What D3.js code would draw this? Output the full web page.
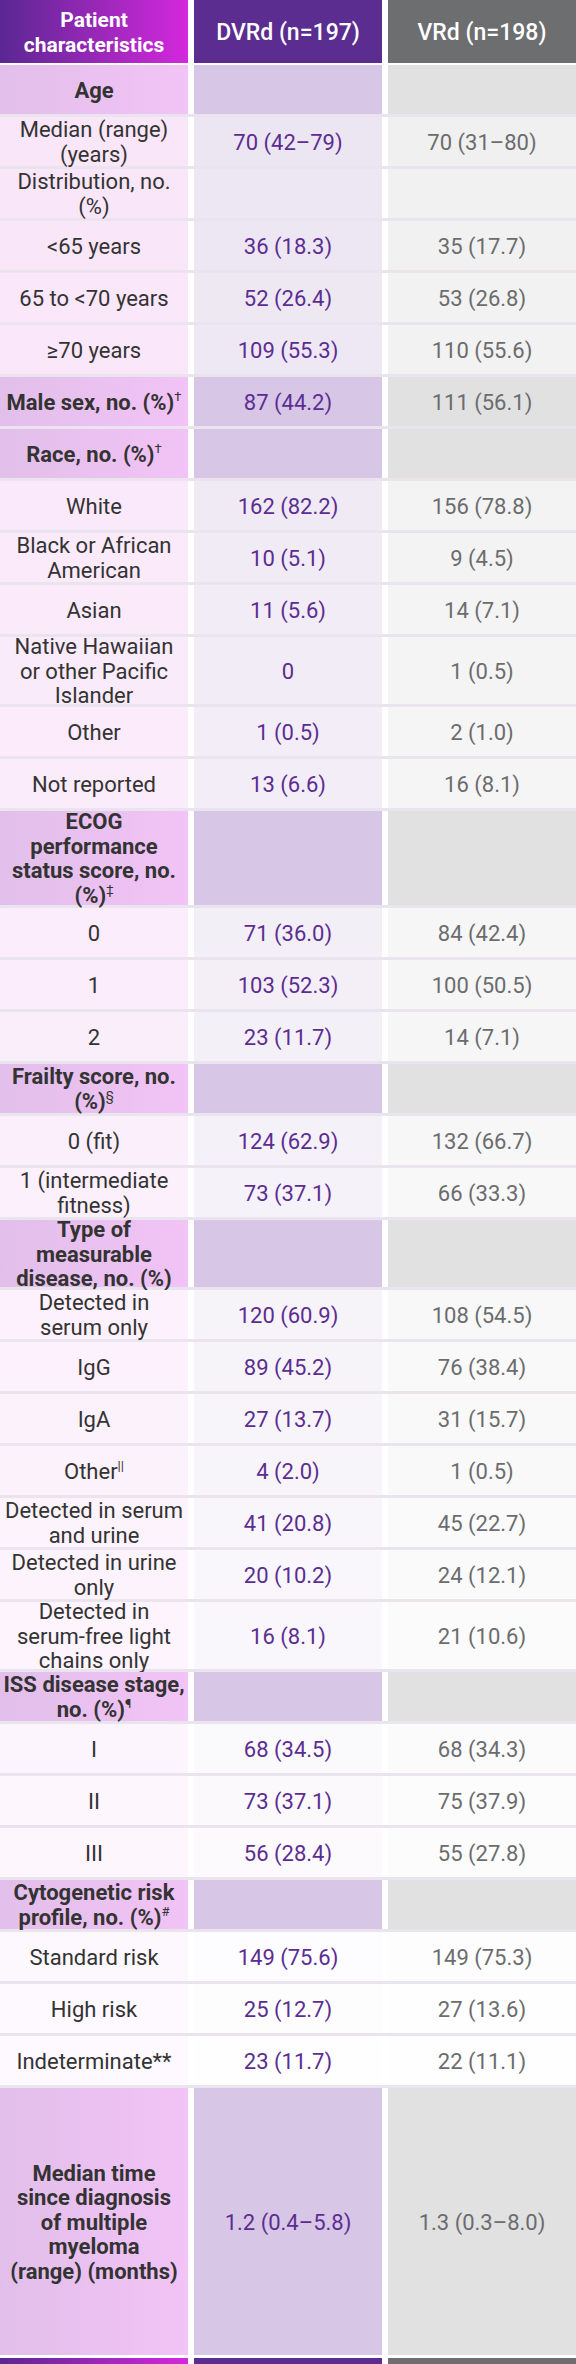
<!DOCTYPE html>
<html>
<head>
<meta charset="utf-8">
<script src="https://cdn.jsdelivr.net/npm/d3@7"></script>
<style>
  body { margin: 0; background: #fff; }
  svg { display: block; font-family: Roboto, "Noto Sans", sans-serif; }
</style>
</head>
<body>
<svg id="chart" width="576" height="2364"></svg>
<script>
// Column headers
const headers = ['Patient|characteristics', 'DVRd (n=197)', 'VRd (n=198)'];

// Row labels ('|' = line break), section flag, superscript marks
const labels = [
  'Age', 'Median (range)|(years)', 'Distribution, no.|(%)', '<65 years', '65 to <70 years', '≥70 years',
  'Male sex, no. (%)', 'Race, no. (%)', 'White', 'Black or African|American', 'Asian',
  'Native Hawaiian|or other Pacific|Islander', 'Other', 'Not reported',
  'ECOG|performance|status score, no.|(%)', '0', '1', '2',
  'Frailty score, no.|(%)', '0 (fit)', '1 (intermediate|fitness)',
  'Type of|measurable|disease, no. (%)', 'Detected in|serum only', 'IgG', 'IgA', 'Other',
  'Detected in serum|and urine', 'Detected in urine|only', 'Detected in|serum-free light|chains only',
  'ISS disease stage,|no. (%)', 'I', 'II', 'III',
  'Cytogenetic risk|profile, no. (%)', 'Standard risk', 'High risk', 'Indeterminate**',
  'Median time|since diagnosis|of multiple|myeloma|(range) (months)'
];
const sections = [
  'Age', 'Male sex, no. (%)', 'Race, no. (%)', 'ECOG|performance|status score, no.|(%)',
  'Frailty score, no.|(%)', 'Type of|measurable|disease, no. (%)', 'ISS disease stage,|no. (%)',
  'Cytogenetic risk|profile, no. (%)',
  'Median time|since diagnosis|of multiple|myeloma|(range) (months)'
];
const sups = {
  'Male sex, no. (%)': '†', 'Race, no. (%)': '†', 'ECOG|performance|status score, no.|(%)': '‡',
  'Frailty score, no.|(%)': '§', 'ISS disease stage,|no. (%)': '¶',
  'Cytogenetic risk|profile, no. (%)': '#'
};
// index 25 is the "Other" under measurable disease, which carries ||
const supByIndex = { 25: '||' };

const dvrd = [
  '', '70 (42–79)', '', '36 (18.3)', '52 (26.4)', '109 (55.3)',
  '87 (44.2)', '', '162 (82.2)', '10 (5.1)', '11 (5.6)', '0', '1 (0.5)', '13 (6.6)',
  '', '71 (36.0)', '103 (52.3)', '23 (11.7)',
  '', '124 (62.9)', '73 (37.1)',
  '', '120 (60.9)', '89 (45.2)', '27 (13.7)', '4 (2.0)', '41 (20.8)', '20 (10.2)', '16 (8.1)',
  '', '68 (34.5)', '73 (37.1)', '56 (28.4)',
  '', '149 (75.6)', '25 (12.7)', '23 (11.7)',
  '1.2 (0.4–5.8)'
];
const vrd = [
  '', '70 (31–80)', '', '35 (17.7)', '53 (26.8)', '110 (55.6)',
  '111 (56.1)', '', '156 (78.8)', '9 (4.5)', '14 (7.1)', '1 (0.5)', '2 (1.0)', '16 (8.1)',
  '', '84 (42.4)', '100 (50.5)', '14 (7.1)',
  '', '132 (66.7)', '66 (33.3)',
  '', '108 (54.5)', '76 (38.4)', '31 (15.7)', '1 (0.5)', '45 (22.7)', '24 (12.1)', '21 (10.6)',
  '', '68 (34.3)', '75 (37.9)', '55 (27.8)',
  '', '149 (75.3)', '27 (13.6)', '22 (11.1)',
  '1.3 (0.3–8.0)'
];

const W = 576, H = 2364, headerH = 65, barH = 6, lineH = 24.5, fs = 22;
const svg = d3.select('#chart');
const defs = svg.append('defs');
const grad = defs.append('linearGradient').attr('id', 'hg');
grad.append('stop').attr('offset', '0%').attr('stop-color', '#5a2792');
grad.append('stop').attr('offset', '100%').attr('stop-color', '#d428dc');
const sgrad = defs.append('linearGradient').attr('id', 'sg');
sgrad.append('stop').attr('offset', '0%').attr('stop-color', '#e2bfea');
sgrad.append('stop').attr('offset', '100%').attr('stop-color', '#f2c3f6');

const x = d3.scaleBand().domain([0, 1, 2]).range([0, W + 6]).paddingInner(0);
const colX = i => x(i);
const colW = x.bandwidth() - 6;

// row layout from line counts
const rowH = l => {
  const n = l.split('|').length;
  return n <= 2 ? 52 : n === 3 ? 70 : 97;
};
const rows = [];
let yy = headerH;
labels.forEach((l, i) => {
  const h = i === labels.length - 1 ? H - barH - yy : rowH(l);
  rows.push({ label: l, i, y: yy, h, section: sections.includes(l), vals: [dvrd[i], vrd[i]] });
  yy += h;
});

// data-row fills fade toward white going down
const fade = d3.scaleLinear().domain([0, 30, 37]).range([0, 0.75, 1]).clamp(true);
const dataFill = [
  t => d3.interpolateRgb('#f9e5f9', '#fefafe')(t),
  t => d3.interpolateRgb('#ece5f2', '#ffffff')(t),
  t => d3.interpolateRgb('#f0f0f0', '#ffffff')(t)
];
const secFill = ['url(#sg)', '#d7c6e6', '#e1e1e1'];
const textFill = ['#333333', '#5c2d91', '#6b6c6e'];

// separators
svg.append('g').selectAll('rect').data(rows.slice(1)).join('rect')
  .attr('x', 0).attr('y', d => d.y - 3).attr('width', W).attr('height', 3)
  .attr('fill', '#e9e4ee');

// header
const hg = svg.append('g');
['url(#hg)', '#5c2d91', '#6d6e70'].forEach((f, c) => {
  hg.append('rect').attr('x', colX(c)).attr('y', 0).attr('width', colW).attr('height', headerH - 2).attr('fill', f);
  hg.append('rect').attr('x', colX(c)).attr('y', H - barH).attr('width', colW).attr('height', barH).attr('fill', f);
  const lines = headers[c].split('|');
  const t = hg.append('text').attr('x', colX(c) + colW / 2).attr('text-anchor', 'middle')
    .attr('fill', '#fff').attr('font-size', c === 0 ? 21 : 23).attr('font-weight', c === 0 ? 700 : 500);
  lines.forEach((s, k) => t.append('tspan').attr('x', colX(c) + colW / 2)
    .attr('y', (headerH - 2) / 2 + (k - (lines.length - 1) / 2) * 25 + 8).text(s));
});

// body cells
const rg = svg.append('g').selectAll('g').data(rows).join('g');
[0, 1, 2].forEach(c => {
  rg.append('rect')
    .attr('x', colX(c)).attr('y', d => d.y).attr('width', colW).attr('height', d => d.h - 3)
    .attr('fill', d => d.section ? secFill[c] : dataFill[c](fade(d.i)));
});

rg.each(function(d) {
  const g = d3.select(this);
  const lines = d.label.split('|');
  const cy = d.y + (d.h - 3) / 2;
  const t = g.append('text').attr('text-anchor', 'middle').attr('font-size', fs)
    .attr('font-weight', d.section ? 700 : 400).attr('fill', textFill[0]);
  lines.forEach((s, k) => {
    t.append('tspan').attr('x', colW / 2)
      .attr('y', cy + (k - (lines.length - 1) / 2) * lineH + 8).text(s);
    const sup = k === lines.length - 1 ? (supByIndex[d.i] || sups[d.label]) : '';
    if (sup) t.append('tspan').attr('font-size', 13).attr('font-weight', 400).attr('dy', -9).text(sup);
  });
  d.vals.forEach((v, j) => {
    if (!v) return;
    g.append('text').attr('x', colX(j + 1) + colW / 2).attr('y', cy + 8)
      .attr('text-anchor', 'middle').attr('font-size', fs).attr('fill', textFill[j + 1]).text(v);
  });
});
</script>
</body>
</html>
